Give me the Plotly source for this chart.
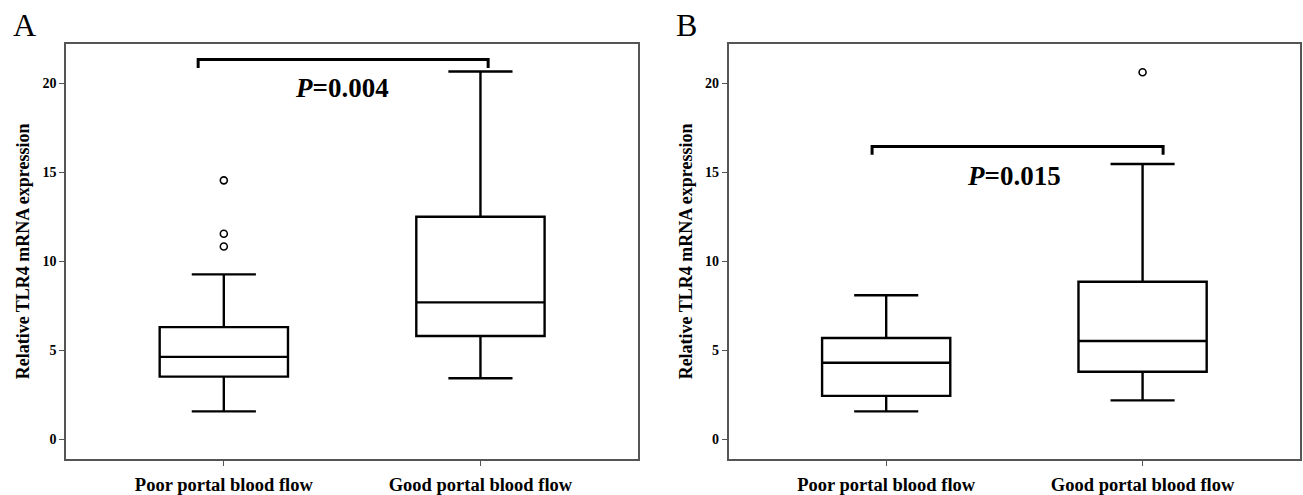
import plotly.graph_objects as go

# ---------------- data ----------------
categories = ["Poor portal blood flow", "Good portal blood flow"]
cat_pos = [0, 1]

# Panel A (box statistics)
a_lower = [1.57, 3.43]
a_q1 = [3.52, 5.80]
a_median = [4.63, 7.69]
a_q3 = [6.30, 12.50]
a_upper = [9.26, 20.65]
a_out_x = [0, 0, 0]
a_out_y = [10.83, 11.54, 14.54]
a_pvalue = "0.004"

# Panel B
b_lower = [1.57, 2.19]
b_q1 = [2.44, 3.80]
b_median = [4.30, 5.52]
b_q3 = [5.69, 8.85]
b_upper = [8.09, 15.46]
b_out_x = [1]
b_out_y = [20.61]
b_pvalue = "0.015"

y_ticks = [0, 5, 10, 15, 20]
y_title = "Relative TLR4 mRNA expression"

# significance brackets (x span, bottom, top)
a_bracket = dict(x0=-0.10, x1=1.03, yb=20.85, yt=21.33)
b_bracket = dict(x0=-0.055, x1=1.08, yb=15.98, yt=16.44)

SERIF = "Liberation Serif, Times New Roman, serif"

fig = go.Figure()


def add_panel(xa, ya, lower, q1, med, q3, upper, ox, oy, br, pval, ptext_x, ptext_y):
    fig.add_trace(go.Box(
        x=cat_pos, q1=q1, median=med, q3=q3, lowerfence=lower, upperfence=upper,
        width=0.5, whiskerwidth=0.5, boxpoints=False,
        fillcolor="white", line=dict(color="black", width=2.4),
        xaxis=xa, yaxis=ya, showlegend=False, hoverinfo="skip"))
    fig.add_trace(go.Scatter(
        x=ox, y=oy, mode="markers",
        marker=dict(symbol="circle-open", size=7, color="black", line=dict(width=1.6)),
        xaxis=xa, yaxis=ya, showlegend=False, hoverinfo="skip"))
    fig.add_trace(go.Scatter(
        x=[br["x0"], br["x0"], br["x1"], br["x1"]],
        y=[br["yb"], br["yt"], br["yt"], br["yb"]],
        mode="lines", line=dict(color="black", width=3),
        xaxis=xa, yaxis=ya, showlegend=False, hoverinfo="skip"))
    fig.add_annotation(
        x=ptext_x, y=ptext_y, xref=xa, yref=ya, showarrow=False,
        text="<b><i>P</i>=" + pval + "</b>",
        font=dict(family=SERIF, size=27, color="black"))


add_panel("x", "y", a_lower, a_q1, a_median, a_q3, a_upper, a_out_x, a_out_y,
          a_bracket, a_pvalue, 0.46, 19.7)
add_panel("x2", "y2", b_lower, b_q1, b_median, b_q3, b_upper, b_out_x, b_out_y,
          b_bracket, b_pvalue, 0.5, 14.8)

xrange = [-0.615, 1.612]
yrange = [-1.12, 22.22]

axis_common_x = dict(
    range=xrange, tickvals=cat_pos, ticktext=categories,
    showline=True, mirror=True, linecolor="#555", linewidth=1.5,
    ticks="outside", ticklen=5, tickcolor="#555", tickwidth=1.2,
    ticklabelstandoff=3,
    showgrid=False, zeroline=False,
    tickfont=dict(family=SERIF, size=18.5, color="black", weight="bold"))
axis_common_y = dict(
    range=yrange, tickvals=y_ticks,
    showline=True, mirror=True, linecolor="#555", linewidth=1.5,
    ticks="outside", ticklen=5, tickcolor="#555", tickwidth=1.2,
    showgrid=False, zeroline=False,
    tickfont=dict(family=SERIF, size=14, color="black", weight="bold"),
    title=dict(text=y_title, standoff=8,
               font=dict(family=SERIF, size=18, color="black", weight="bold")))

fig.update_layout(
    width=1303, height=495,
    margin=dict(l=0, r=0, t=0, b=0),
    paper_bgcolor="white", plot_bgcolor="white",
    xaxis=dict(domain=[66 / 1303, 637.5 / 1303], anchor="y", **axis_common_x),
    yaxis=dict(domain=[1 - 464 / 495, 1 - 44 / 495], anchor="x", **axis_common_y),
    xaxis2=dict(domain=[728.5 / 1303, 1299.5 / 1303], anchor="y2", **axis_common_x),
    yaxis2=dict(domain=[1 - 464 / 495, 1 - 44 / 495], anchor="x2", **axis_common_y),
)

fig.add_annotation(x=24 / 1303, y=1 - 25 / 495, xref="paper", yref="paper",
                   xanchor="center", yanchor="middle",
                   text="A", showarrow=False,
                   font=dict(family=SERIF, size=32, color="black"))
fig.add_annotation(x=686 / 1303, y=1 - 25 / 495, xref="paper", yref="paper",
                   xanchor="center", yanchor="middle",
                   text="B", showarrow=False,
                   font=dict(family=SERIF, size=32, color="black"))

fig.write_html("out.html")
